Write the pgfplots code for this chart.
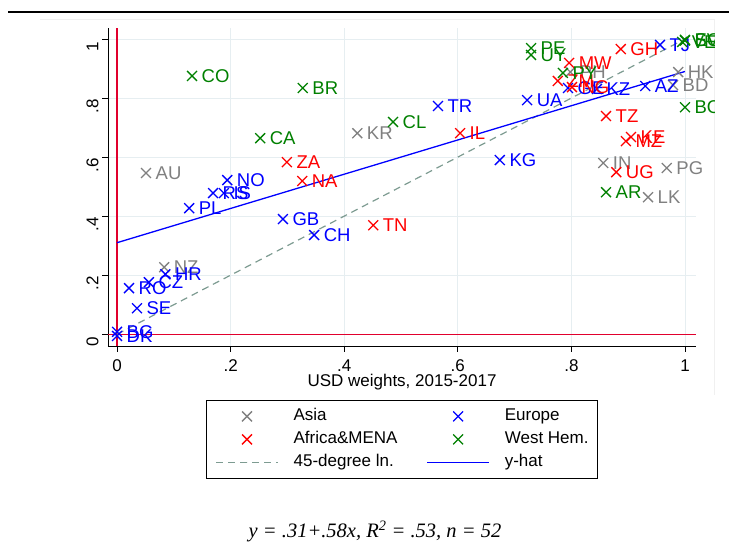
\documentclass[border=0pt]{standalone}
\usepackage{fontspec}
\setmainfont{Liberation Sans}
\newfontfamily\notefont{Liberation Serif}
\usepackage{pgfplots}
\pgfplotsset{compat=1.18}
\usepackage{pgfplotstable}

\definecolor{asiac}{RGB}{128,128,128}
\definecolor{eurc}{RGB}{0,0,255}
\definecolor{afrc}{RGB}{255,0,0}
\definecolor{whc}{RGB}{0,128,0}
\definecolor{refred}{RGB}{225,0,45}
\definecolor{fortyc}{RGB}{125,155,145}
\definecolor{gridc}{RGB}{230,238,241}

\pgfplotstableread{
x y lab
0.051 0.546 AU
0.423 0.681 KR
0.083 0.227 NZ
0.856 0.580 IN
0.968 0.563 PG
0.935 0.464 LK
0.988 0.888 HK
0.979 0.844 BD
0.798 0.888 PH
}\asia

\pgfplotstableread{
x y lab
0.956 0.980 TJ
0.930 0.841 AZ
0.845 0.831 KZ
0.794 0.834 GE
0.722 0.793 UA
0.565 0.773 TR
0.674 0.590 KG
0.194 0.522 NO
0.169 0.478 RS
0.188 0.478 IS
0.127 0.427 PL
0.292 0.390 GB
0.347 0.336 CH
0.085 0.203 HR
0.056 0.176 CZ
0.021 0.156 RO
0.035 0.088 SE
0.000 0.008 BG
0.000 -0.006 DK
}\europe

\pgfplotstableread{
x y lab
0.887 0.966 GH
0.796 0.919 MW
0.776 0.858 ZM
0.801 0.837 NG
0.861 0.739 TZ
0.905 0.668 KE
0.896 0.654 MZ
0.879 0.549 UG
0.604 0.681 IL
0.299 0.583 ZA
0.326 0.519 NA
0.451 0.369 TN
}\africa

\pgfplotstableread{
x y lab
0.132 0.875 CO
0.327 0.834 BR
0.252 0.664 CA
0.486 0.719 CL
0.729 0.969 PE
0.729 0.946 UY
0.785 0.885 PY
1.000 0.769 BO
0.861 0.481 AR
1.000 0.997 EC
1.000 0.995 SV
0.995 0.990 VE
}\westhem

\begin{document}
\begin{tikzpicture}
\path[use as bounding box] (0pt,0pt) rectangle (729pt,545pt);
\draw[gray!12, line width=0.8pt] (40pt,526pt) -- (714pt,526pt) -- (714pt,150pt);
\begin{scope}
\clip (0pt,0pt) rectangle (714pt,545pt);
\begin{axis}[
  at={(108pt,199pt)}, anchor=south west,
  scale only axis, width=588pt, height=318pt,
  xmin=-0.016, xmax=1.0194, ymin=-0.04, ymax=1.0373,
  clip=false,
  axis x line*=bottom, axis y line*=left,
  axis line style={-, line width=0.9pt, black},
  xtick={0,0.2,0.4,0.6,0.8,1}, xticklabels={0,.2,.4,.6,.8,1},
  ytick={0,0.2,0.4,0.6,0.8,1}, yticklabels={0,.2,.4,.6,.8,1},
  /pgf/number format/assume math mode=true,
  tick align=outside, major tick length=6pt,
  tick style={black, line width=0.9pt},
  ticklabel style={font=\fontsize{17}{19}\selectfont},
  xticklabel style={yshift=-4pt},
  yticklabel style={rotate=90, anchor=south, xshift=-8pt},
  grid=major, grid style={color=gridc, line width=0.9pt},
  xlabel={USD weights, 2015-2017},
  xlabel style={font=\fontsize{17}{19}\selectfont, yshift=4pt},
  legend columns=2, legend cell align=left,
  legend image code/.code={\draw[mark repeat=2,mark phase=2,#1] plot coordinates {(0pt,0pt) (31pt,0pt) (62pt,0pt)};},
  legend style={
    at={(0.5,-0.1698)}, anchor=north,
    draw=black, line width=0.8pt,
    font=\fontsize{17}{19}\selectfont,
    inner xsep=9pt, inner ysep=8pt,
    nodes={inner sep=0pt, text height=12.5pt, text depth=3.5pt},
    /tikz/every odd column/.append style={column sep=15pt},
    /tikz/every even column/.append style={column sep=29pt},
    row sep=7pt,
  },
  nodes near coords,
  point meta=explicit symbolic,
  every node near coord/.append style={anchor=west, inner sep=0pt, xshift=9pt, font=\fontsize{18.5}{20}\selectfont},
]
\addplot[refred, line width=1.3pt, forget plot, nodes near coords=] coordinates {(0,-0.04) (0,1.0373)};
\addplot[refred, line width=1.3pt, forget plot, nodes near coords=] coordinates {(-0.016,0) (1.0194,0)};

\addplot[only marks, mark=x, mark size=7pt, mark options={line width=1.3pt}, color=asiac,
  every node near coord/.append style={text=asiac}] table[x=x,y=y,meta=lab] {\asia};
\addlegendentry{Asia}
\addplot[only marks, mark=x, mark size=7pt, mark options={line width=1.3pt}, color=eurc,
  every node near coord/.append style={text=eurc}] table[x=x,y=y,meta=lab] {\europe};
\addlegendentry{Europe}
\addplot[only marks, mark=x, mark size=7pt, mark options={line width=1.3pt}, color=afrc,
  every node near coord/.append style={text=afrc}] table[x=x,y=y,meta=lab] {\africa};
\addlegendentry{Africa\&MENA}
\addplot[only marks, mark=x, mark size=7pt, mark options={line width=1.3pt}, color=whc,
  every node near coord/.append style={text=whc}] table[x=x,y=y,meta=lab] {\westhem};
\addlegendentry{West Hem.}
\addplot[fortyc, line width=1.2pt, dash pattern=on 7pt off 5pt, no marks, nodes near coords=] coordinates {(0,0) (1,1)};
\addlegendentry{45-degree ln.}
\addplot[eurc, line width=1.3pt, no marks, nodes near coords=] coordinates {(0,0.31) (1,0.89)};
\addlegendentry{y-hat}
\end{axis}
\end{scope}
\draw[black, line width=2pt] (8pt,533pt) -- (729pt,533pt);
\node[font=\notefont\itshape\fontsize{20.5}{22}\selectfont, anchor=base, inner sep=0pt] at (375pt,7pt) {y = .31+.58x, R\textsuperscript{2} = .53, n = 52};
\end{tikzpicture}
\end{document}
